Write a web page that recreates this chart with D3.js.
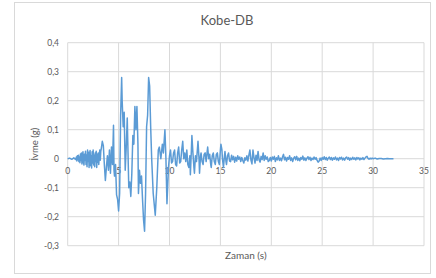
<!DOCTYPE html>
<html><head><meta charset="utf-8">
<script src="https://cdn.jsdelivr.net/npm/d3@7"></script>
<style>body{margin:0;background:#fff}svg{display:block}</style>
</head><body>
<script>
const title = "Kobe-DB";
const xLabel = "Zaman (s)";
const yLabel = "İvme (g)";
const xTicks = [0,5,10,15,20,25,30,35];
const yTicks = [-0.3,-0.2,-0.1,0,0.1,0.2,0.3,0.4];

const timeS = [
 0,0.2,0.4,0.6,0.8,
 0.85,0.9,0.95,1.0,1.05,1.1,1.15,1.2,1.25,1.3,1.35,1.4,1.45,1.5,1.55,1.6,1.65,1.7,1.75,1.8,1.85,1.9,1.95,2.0,2.05,2.1,2.15,2.2,2.25,2.3,2.35,2.4,2.45,2.5,2.55,2.6,2.65,2.7,2.75,2.8,2.85,2.9,2.95,3.0,3.05,3.1,3.15,3.2,3.25,3.3,
 3.4,3.5,3.6,3.7,3.8,3.9,4.0,4.1,4.2,4.3,4.4,4.5,
 4.55,4.6,4.7,4.8,4.9,5.0,5.1,5.2,5.3,
 5.35,5.45,5.55,5.65,5.75,5.85,5.9,
 6.0,6.1,6.2,6.3,6.4,6.5,6.6,6.7,6.8,6.9,
 6.95,7.05,7.15,7.25,7.35,7.45,7.55,7.65,7.75,7.85,7.95,8.05,8.15,8.25,
 8.4,8.6,8.75,8.9,9.0,9.15,9.3,9.4,9.55,9.65,9.75,9.9,
 10.0,10.1,10.2,10.3,10.4,10.5,10.6,10.7,10.8,10.9,
 11.0,11.1,11.2,11.3,11.4,11.5,11.6,11.7,11.8,11.9,
 12.0,12.05,12.15,12.2,12.3,12.4,12.45,12.55,12.65,12.8,12.9,12.95,
 13.05,13.1,13.2,13.3,13.4,13.5,13.6,13.7,13.75,13.85,13.95,
 14.05,14.1,14.2,14.3,14.4,14.5,14.6,14.7,14.8,14.9,
 15.0,15.05,15.15,15.2,15.3,15.4,15.45,15.55,15.6,15.7,15.8,15.9,
 16.0,16.1,16.2,16.3,16.4,16.5,16.6,16.7,16.8,16.9,
 17.0,17.1,17.2,17.3,17.4,17.5,17.6,17.7,17.8,17.9,
 18.0,18.1,18.2,18.3,18.4,18.5,18.6,18.7,18.8,18.9,
 19.0,19.1,19.2,19.3,19.4,19.5,19.6,19.7,19.8,19.9,
 20.0,20.1,20.2,20.3,20.4,20.5,20.6,20.7,20.8,20.9,
 21.0,21.1,21.2,21.3,21.4,21.5,21.6,21.7,21.8,21.9,
 22.0,22.1,22.2,22.3,22.4,22.5,22.6,22.7,22.8,22.9,
 23.0,23.1,23.2,23.3,23.4,23.5,23.6,23.7,23.8,23.9,
 24.0,24.1,24.2,24.3,24.4,24.5,24.6,24.7,24.8,24.9,
 25.0,25.1,25.2,25.3,25.4,25.5,25.6,25.7,25.8,25.9,
 26.0,26.1,26.2,26.3,26.4,26.5,26.6,26.7,26.8,26.9,
 27.0,27.1,27.2,27.3,27.4,27.5,27.6,27.7,27.8,27.9,
 28.0,28.1,28.2,28.3,28.4,28.5,28.6,28.7,28.8,28.9,
 29.0,29.1,29.2,29.3,29.4,29.5,29.6,29.7,29.8,29.9,
 30.0,30.2,30.4,30.6,30.8,31.0,31.2,31.4,31.6,31.8,32.0
];
const accelG = [
 0,0.002,-0.002,0.003,-0.003,
 0.006,-0.008,0.01,-0.004,0.012,-0.01,0.005,-0.014,0.016,-0.006,0.02,-0.018,0.008,0.024,-0.012,-0.022,0.015,-0.005,0.026,-0.02,0.012,-0.028,0.03,-0.01,0.022,-0.03,0.018,0.028,-0.024,0.01,-0.032,0.024,-0.015,0.03,-0.022,0.012,-0.028,0.02,-0.01,0.026,-0.03,0.015,-0.012,0.02,-0.02,0.01,0.03,-0.005,0.025,0.035,
 0.06,0.045,-0.02,-0.075,-0.03,0.01,-0.04,0.03,-0.05,0.04,-0.02,0.115,
 -0.04,-0.06,-0.02,-0.125,-0.14,-0.18,-0.12,0.15,0.28,
 0.2,0.11,0.16,-0.04,0.04,0.14,0.06,
 -0.1,-0.08,-0.13,-0.05,0.08,0.05,0.18,0.1,0.18,0.05,
 -0.12,-0.04,-0.085,-0.06,-0.14,-0.21,-0.25,-0.12,0.11,0.15,0.28,0.25,0.11,0.0,
 -0.12,-0.195,-0.1,0.03,0.04,0.0,0.05,0.02,0.1,0.0,-0.155,-0.03,
 0.01,0.03,-0.015,-0.01,0.02,0.03,-0.02,-0.025,0.02,0.04,
 -0.015,-0.01,0.03,0.06,0.0,0.02,-0.01,0.03,-0.02,-0.03,
 0.01,-0.055,0.03,0.08,0.02,-0.03,-0.05,0.01,-0.01,0.06,0.0,-0.05,
 0.01,0.02,-0.01,-0.02,0.015,0.02,-0.01,0.025,0.04,0.0,0.015,
 -0.02,-0.03,0.01,0.02,-0.01,-0.02,0.015,0.02,-0.01,-0.02,
 0.03,0.05,0.03,0.0,-0.03,0.01,0.025,-0.01,-0.02,0.01,0.02,-0.008,
 -0.01,0.012,-0.004,0.008,-0.012,0.005,-0.008,0.01,-0.002,0.006,
 -0.01,0.004,-0.006,-0.015,0.003,-0.005,0.01,-0.008,0.012,0.03,
 -0.005,-0.018,0.03,0.004,-0.015,0.012,-0.006,0.025,-0.004,-0.012,
 0.008,-0.003,0.02,-0.006,0.01,-0.002,0.006,-0.01,-0.006,0.004,
 -0.008,0.006,-0.002,0.008,-0.01,0.003,-0.004,0.01,-0.006,0.002,
 -0.007,0.006,0.015,-0.004,0.005,-0.008,0.004,-0.002,0.01,-0.006,
 0.003,-0.01,0.002,0.007,-0.004,0.008,-0.006,0.002,-0.007,0.004,
 -0.002,0.009,-0.005,0.003,-0.006,0.002,0.007,-0.003,0.005,-0.006,
 0.002,-0.003,0.006,-0.002,0.004,-0.006,-0.012,-0.008,0.002,-0.006,
 0.004,-0.002,0.007,-0.003,0.004,-0.005,0.002,0.006,-0.003,0.004,
 -0.005,0.003,-0.002,0.006,-0.004,0.002,-0.006,0.004,-0.001,0.005,
 -0.004,0.002,-0.005,0.003,0.006,-0.002,0.004,-0.005,0.002,-0.003,
 0.005,-0.002,0.003,-0.004,0.004,-0.001,0.003,-0.004,0.002,-0.002,
 0.004,-0.003,0.002,0.006,0.008,0.001,-0.002,0.002,-0.001,0.002,
 0.0,0.002,-0.001,0.001,0.001,-0.001,0.0,0.001,0.0,0.0,0.0
];

const W = 436, H = 278;
const m = {left: 67.7, right: 424, top: 42.7, bottom: 245.7};
const svg = d3.select("body").append("svg").attr("width", W).attr("height", H);
const font = "Lato, 'Open Sans', sans-serif";
const textCol = "#595959";

svg.append("rect").attr("x", 14.5).attr("y", 2.5).attr("width", 416).attr("height", 271)
  .attr("fill", "#fff").attr("stroke", "#d9d9d9").attr("stroke-width", 1);

const x = d3.scaleLinear().domain([0, 35]).range([m.left, m.right]);
const y = d3.scaleLinear().domain([-0.3, 0.4]).range([m.bottom, m.top]);

svg.append("g").selectAll("line").data(yTicks).join("line")
  .attr("x1", m.left).attr("x2", m.right)
  .attr("y1", d => y(d)).attr("y2", d => y(d))
  .attr("stroke", "#d9d9d9").attr("stroke-width", 1);
svg.append("g").selectAll("line").data(xTicks).join("line")
  .attr("x1", d => x(d)).attr("x2", d => x(d))
  .attr("y1", m.top).attr("y2", m.bottom)
  .attr("stroke", "#d9d9d9").attr("stroke-width", 1);

const fmt = v => v === 0 ? "0" : d3.format(".1f")(v).replace(".", ",").replace("−", "-");
svg.append("g").selectAll("text").data(yTicks).join("text")
  .attr("x", 59).attr("y", d => y(d)).attr("dy", "0.35em")
  .attr("text-anchor", "end").attr("font-family", font).attr("font-size", 8.5)
  .attr("fill", textCol).text(fmt);

svg.append("g").selectAll("text").data(xTicks).join("text")
  .attr("x", d => x(d)).attr("y", y(0) + 15)
  .attr("text-anchor", "middle").attr("font-family", font).attr("font-size", 8.5)
  .attr("fill", textCol).text(d => d);

const n = Math.min(timeS.length, accelG.length);
const data = timeS.slice(0, n).map((t, i) => [t, accelG[i]]);
svg.append("path").datum(data)
  .attr("fill", "none").attr("stroke", "#5b9bd5").attr("stroke-width", 1.5)
  .attr("stroke-linejoin", "round")
  .attr("d", d3.line().x(d => x(d[0])).y(d => y(d[1])));

svg.append("text").attr("x", 227).attr("y", 25).attr("text-anchor", "middle")
  .attr("font-family", font).attr("font-size", 13).attr("fill", textCol).text(title);
svg.append("text").attr("x", (m.left + m.right) / 2).attr("y", 259).attr("text-anchor", "middle")
  .attr("font-family", font).attr("font-size", 10).attr("fill", textCol).text(xLabel);
svg.append("text").attr("transform", `translate(38,${(m.top + m.bottom) / 2}) rotate(-90)`)
  .attr("text-anchor", "middle").attr("font-family", font).attr("font-size", 9.5)
  .attr("fill", textCol).text(yLabel);
</script>
</body></html>
